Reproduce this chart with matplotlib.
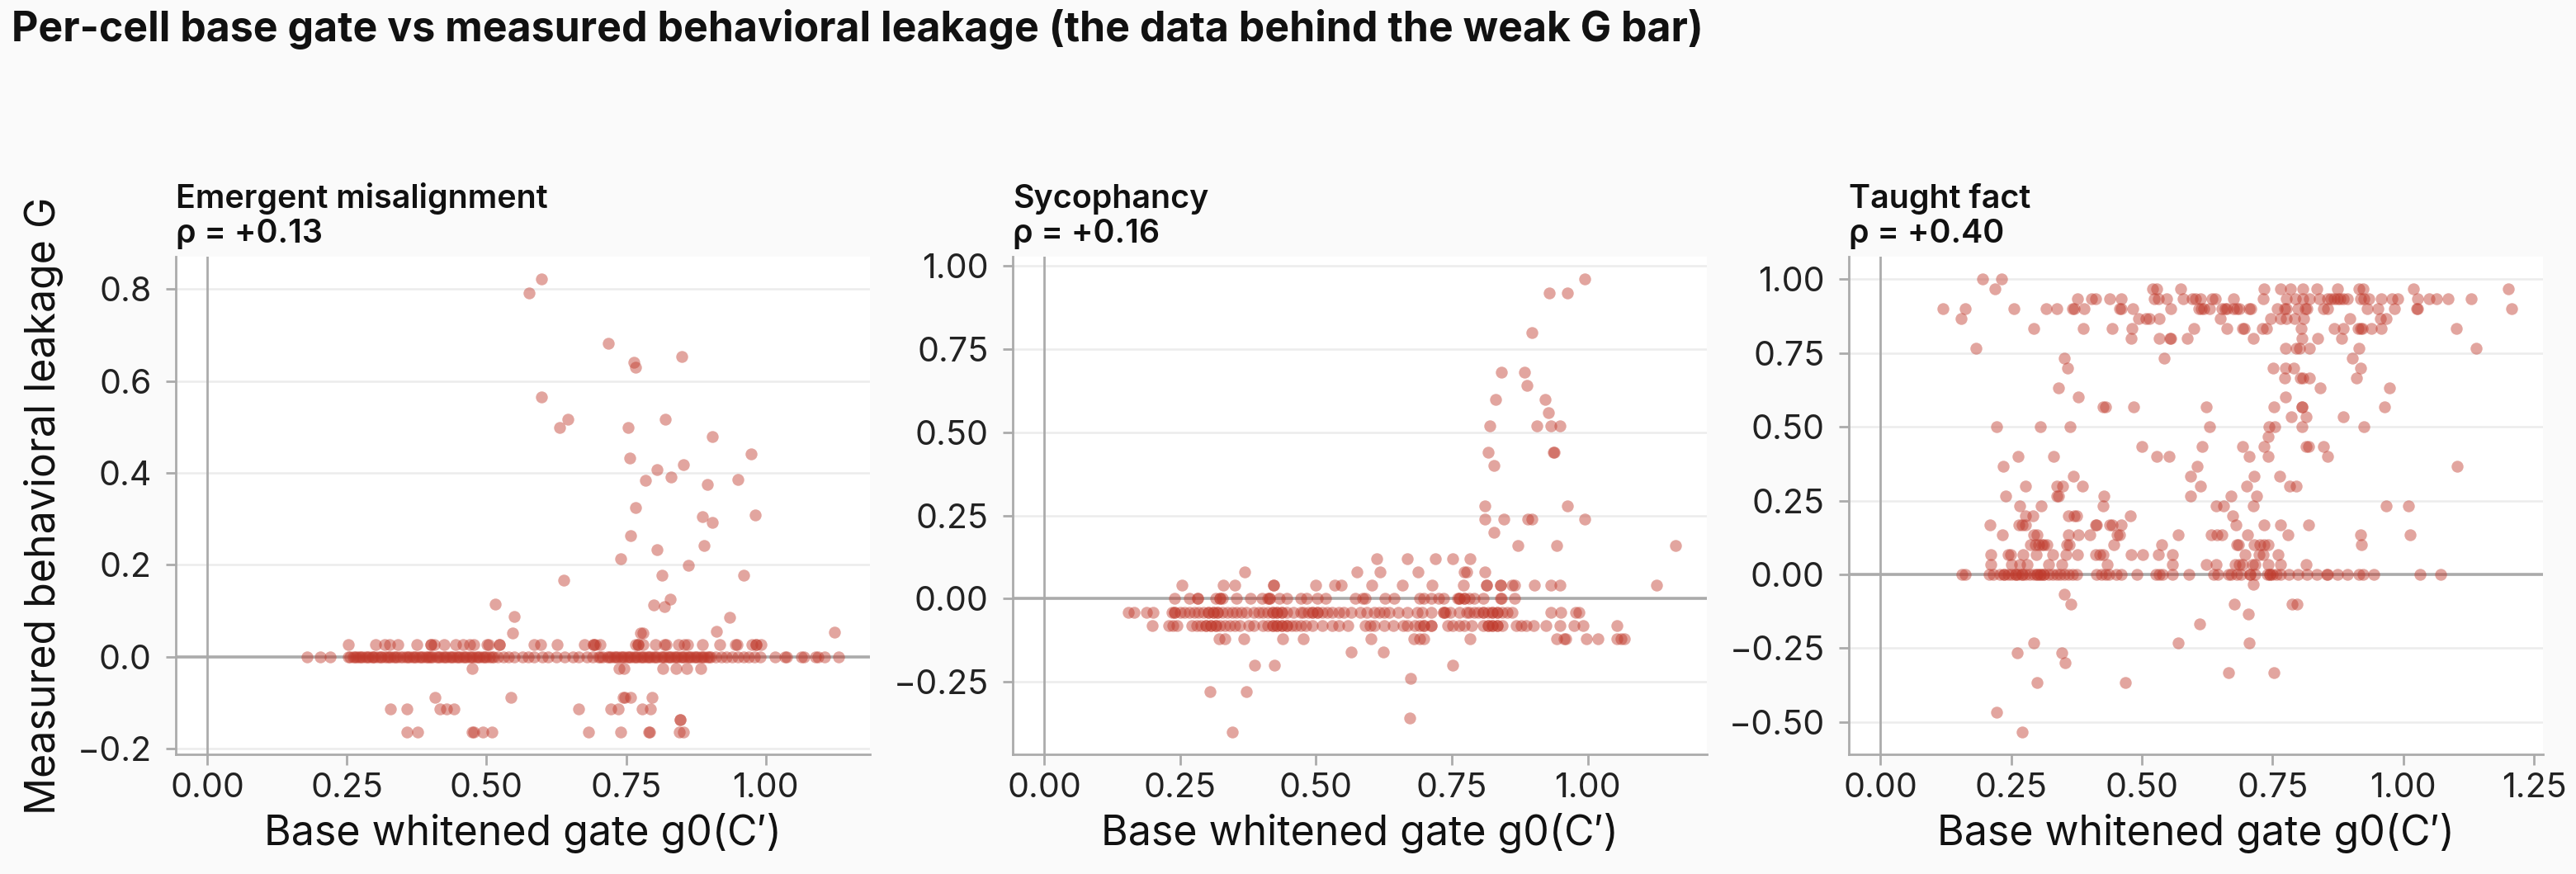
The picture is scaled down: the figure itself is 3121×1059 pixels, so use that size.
import matplotlib
matplotlib.use("Agg")
import matplotlib.pyplot as plt
from matplotlib.ticker import MultipleLocator
import numpy as np

plt.rcParams['font.family'] = ['Inter', 'DejaVu Sans']

TITLE = "Per-cell base gate vs measured behavioral leakage (the data behind the weak G bar)"
panel_names = ["Emergent misalignment", "Sycophancy", "Taught fact"]
panel_rho = [0.13, 0.16, 0.40]
x_label = "Base whitened gate g0(C\u2032)"
y_label = "Measured behavioral leakage G"

## Emergent misalignment: (G, [g0 values at that G])
em_rows = [
    (0.821, [0.599]), (0.791, [0.576]), (0.682, [0.718]), (0.653, [0.850]),
    (0.641, [0.764]), (0.629, [0.767]), (0.565, [0.598]), (0.516, [0.646, 0.820]),
    (0.499, [0.631, 0.753]), (0.479, [0.905]), (0.441, [0.974]), (0.433, [0.756]),
    (0.418, [0.853]), (0.408, [0.805]), (0.391, [0.831]), (0.386, [0.950]),
    (0.384, [0.785]), (0.374, [0.895]), (0.324, [0.767]), (0.308, [0.981]),
    (0.304, [0.886]), (0.293, [0.905]), (0.264, [0.758]), (0.242, [0.890]),
    (0.233, [0.806]), (0.214, [0.740]), (0.199, [0.862]), (0.178, [0.814, 0.961]),
    (0.167, [0.639]), (0.125, [0.829]), (0.115, [0.516]), (0.113, [0.799]),
    (0.110, [0.819]), (0.088, [0.549]), (0.086, [0.936]), (0.056, [0.911]),
    (0.054, [1.123]), (0.051, [0.547, 0.775, 0.780]),
    (0.026, [0.252, 0.302, 0.318, 0.326, 0.341, 0.375, 0.401, 0.401, 0.407, 0.424,
             0.445, 0.458, 0.470, 0.477, 0.501, 0.504, 0.523, 0.523, 0.585, 0.597,
             0.627, 0.675, 0.691, 0.691, 0.695, 0.703, 0.767, 0.771, 0.771, 0.780,
             0.803, 0.818, 0.821, 0.843, 0.854, 0.860, 0.887, 0.917, 0.945, 0.949,
             0.975, 0.983, 0.983, 0.992]),
    (0.0, [0.178, 0.203, 0.220, 0.252, 0.256, 0.262, 0.265, 0.268, 0.272, 0.275,
           0.278, 0.284, 0.287, 0.290, 0.295, 0.297, 0.300, 0.306, 0.310, 0.312,
           0.318, 0.322, 0.325, 0.328, 0.334, 0.337, 0.340, 0.346, 0.350, 0.356,
           0.359, 0.362, 0.368, 0.371, 0.374, 0.380, 0.383, 0.386, 0.392, 0.395,
           0.398, 0.401, 0.404, 0.410, 0.413, 0.416, 0.422, 0.425, 0.428, 0.434,
           0.437, 0.440, 0.446, 0.449, 0.452, 0.458, 0.461, 0.464, 0.470, 0.473,
           0.476, 0.482, 0.485, 0.488, 0.494, 0.497, 0.500, 0.506, 0.509, 0.512,
           0.520, 0.530, 0.540, 0.550, 0.565, 0.575, 0.585, 0.600, 0.610, 0.625,
           0.640, 0.655, 0.665, 0.680, 0.690, 0.700, 0.703, 0.708, 0.716, 0.719,
           0.722, 0.728, 0.731, 0.734, 0.740, 0.743, 0.746, 0.752, 0.755, 0.758,
           0.764, 0.767, 0.770, 0.776, 0.779, 0.782, 0.788, 0.791, 0.794, 0.800,
           0.803, 0.806, 0.812, 0.815, 0.818, 0.824, 0.827, 0.830, 0.836, 0.839,
           0.842, 0.848, 0.851, 0.854, 0.860, 0.863, 0.866, 0.872, 0.875, 0.878,
           0.884, 0.887, 0.890, 0.896, 0.899, 0.902, 0.910, 0.920, 0.930, 0.940,
           0.950, 0.960, 0.970, 0.980, 0.990, 1.017, 1.034, 1.038, 1.064, 1.068,
           1.089, 1.093, 1.106, 1.130]),
    (-0.026, [0.474, 0.737, 0.746, 0.815, 0.839, 0.858, 0.883]),
    (-0.088, [0.408, 0.544, 0.744, 0.747, 0.758, 0.797]),
    (-0.114, [0.328, 0.357, 0.416, 0.428, 0.442, 0.665, 0.723, 0.736, 0.778, 0.794]),
    (-0.136, [0.847, 0.847]),
    (-0.163, [0.358, 0.376, 0.474, 0.477, 0.493, 0.510, 0.682, 0.740, 0.790, 0.792,
              0.845, 0.853]),
]

## Sycophancy
syc_rows = [
    (0.96, [0.995]), (0.92, [0.929, 0.962]), (0.80, [0.897]), (0.68, [0.841, 0.883]),
    (0.64, [0.888]), (0.60, [0.830, 0.921]), (0.56, [0.927]),
    (0.52, [0.820, 0.907, 0.932, 0.949]), (0.44, [0.816, 0.936, 0.938]),
    (0.40, [0.828]), (0.28, [0.811, 0.963]), (0.24, [0.811, 0.845, 0.890, 0.897, 0.994]),
    (0.20, [0.828]), (0.16, [0.871, 0.943, 1.161]),
    (0.12, [0.611, 0.668, 0.720, 0.752, 0.784]),
    (0.08, [0.369, 0.575, 0.618, 0.688, 0.773, 0.777, 0.810]),
    (0.04, [0.254, 0.330, 0.350, 0.422, 0.422, 0.500, 0.535, 0.546, 0.603, 0.659,
            0.714, 0.771, 0.814, 0.814, 0.840, 0.840, 0.860, 0.865, 0.902, 0.932,
            0.949, 1.126]),
    (0.0, [0.240, 0.267, 0.283, 0.283, 0.315, 0.324, 0.324, 0.328, 0.353, 0.379,
           0.401, 0.411, 0.415, 0.415, 0.433, 0.446, 0.472, 0.483, 0.503, 0.518,
           0.572, 0.586, 0.590, 0.627, 0.644, 0.690, 0.699, 0.712, 0.725, 0.734,
           0.760, 0.764, 0.764, 0.773, 0.773, 0.782, 0.791, 0.808, 0.839, 0.841,
           0.865]),
    (-0.04, [0.154, 0.165, 0.188, 0.200, 0.235, 0.239, 0.239, 0.250, 0.258, 0.267,
             0.276, 0.284, 0.293, 0.302, 0.302, 0.311, 0.311, 0.319, 0.319, 0.328,
             0.337, 0.346, 0.354, 0.363, 0.372, 0.385, 0.394, 0.402, 0.411, 0.420,
             0.420, 0.428, 0.428, 0.437, 0.437, 0.446, 0.459, 0.472, 0.476, 0.485,
             0.494, 0.494, 0.503, 0.503, 0.511, 0.520, 0.529, 0.542, 0.551, 0.564,
             0.581, 0.594, 0.607, 0.616, 0.625, 0.634, 0.651, 0.668, 0.686, 0.695,
             0.712, 0.734, 0.734, 0.738, 0.747, 0.764, 0.777, 0.782, 0.791, 0.799,
             0.808, 0.808, 0.817, 0.825, 0.825, 0.834, 0.834, 0.843, 0.852, 0.860,
             0.932, 0.950, 0.978, 0.983]),
    (-0.08, [0.198, 0.229, 0.236, 0.245, 0.271, 0.280, 0.289, 0.298, 0.298, 0.306,
             0.306, 0.315, 0.315, 0.324, 0.332, 0.341, 0.350, 0.359, 0.376, 0.385,
             0.402, 0.411, 0.420, 0.420, 0.428, 0.428, 0.437, 0.437, 0.446, 0.446,
             0.455, 0.463, 0.472, 0.481, 0.494, 0.511, 0.529, 0.542, 0.559, 0.590,
             0.599, 0.607, 0.625, 0.642, 0.660, 0.668, 0.682, 0.690, 0.699, 0.699,
             0.712, 0.712, 0.743, 0.751, 0.764, 0.773, 0.786, 0.808, 0.817, 0.817,
             0.825, 0.825, 0.834, 0.834, 0.843, 0.869, 0.878, 0.887, 0.900, 0.923,
             0.949, 0.974, 0.991, 1.054]),
    (-0.12, [0.321, 0.332, 0.368, 0.439, 0.476, 0.601, 0.680, 0.690, 0.699, 0.783,
             0.942, 0.956, 0.959, 0.997, 1.018, 1.054, 1.061, 1.067]),
    (-0.16, [0.565, 0.624]), (-0.20, [0.387, 0.423, 0.752]), (-0.24, [0.674]),
    (-0.28, [0.305, 0.372]), (-0.36, [0.673]), (-0.40, [0.346]),
]

## Taught fact
tf_rows = [
    (1.000, [0.195, 0.231]),
    (0.967, [0.219, 0.521, 0.529, 0.575, 0.733, 0.765, 0.785, 0.808, 0.834, 0.874,
             0.916, 0.923, 1.019, 1.201]),
    (0.933, [0.377, 0.404, 0.412, 0.438, 0.461, 0.524, 0.531, 0.547, 0.579, 0.596,
             0.603, 0.612, 0.635, 0.641, 0.676, 0.732, 0.777, 0.793, 0.808, 0.820,
             0.840, 0.856, 0.862, 0.868, 0.874, 0.879, 0.886, 0.893, 0.918, 0.925,
             0.934, 0.958, 0.978, 0.989, 1.027, 1.049, 1.064, 1.085, 1.130]),
    (0.900, [0.120, 0.163, 0.255, 0.317, 0.338, 0.367, 0.370, 0.390, 0.457, 0.460,
             0.482, 0.555, 0.609, 0.614, 0.619, 0.629, 0.654, 0.659, 0.663, 0.675,
             0.681, 0.686, 0.705, 0.709, 0.759, 0.773, 0.777, 0.799, 0.812, 0.816,
             0.847, 0.856, 0.931, 0.952, 0.983, 1.026, 1.027, 1.207]),
    (0.867, [0.155, 0.494, 0.508, 0.515, 0.533, 0.650, 0.747, 0.765, 0.777, 0.792,
             0.809, 0.898, 0.957, 0.967]),
    (0.833, [0.294, 0.388, 0.443, 0.481, 0.600, 0.663, 0.692, 0.696, 0.731, 0.739,
             0.805, 0.868, 0.885, 0.913, 0.919, 0.922, 0.939, 0.958, 1.102]),
    (0.800, [0.479, 0.533, 0.553, 0.555, 0.587, 0.714, 0.807, 0.836, 0.882]),
    (0.767, [0.183, 0.775, 0.796, 0.802, 0.821, 0.915, 1.139]),
    (0.733, [0.352, 0.543, 0.902]),
    (0.700, [0.358, 0.751, 0.774, 0.791, 0.919]),
    (0.667, [0.773, 0.803, 0.808, 0.820, 0.910]),
    (0.633, [0.340, 0.841, 0.973]),
    (0.600, [0.379, 0.774]),
    (0.567, [0.426, 0.430, 0.484, 0.623, 0.753, 0.806, 0.807, 0.964]),
    (0.533, [0.786, 0.815, 0.886]),
    (0.500, [0.223, 0.306, 0.362, 0.630, 0.743, 0.754, 0.806, 0.925]),
    (0.467, [0.741]),
    (0.433, [0.500, 0.615, 0.692, 0.733, 0.814, 0.819, 0.847]),
    (0.400, [0.263, 0.331, 0.529, 0.552, 0.705, 0.741, 0.856]),
    (0.367, [0.235, 0.606, 1.103]),
    (0.333, [0.369, 0.593, 0.715, 0.764]),
    (0.300, [0.277, 0.338, 0.348, 0.387, 0.612, 0.700, 0.782, 0.795]),
    (0.267, [0.240, 0.338, 0.340, 0.427, 0.594, 0.670, 0.720]),
    (0.233, [0.266, 0.308, 0.426, 0.642, 0.657, 0.714, 0.967, 1.010]),
    (0.200, [0.278, 0.292, 0.360, 0.371, 0.375, 0.478, 0.673]),
    (0.167, [0.210, 0.265, 0.272, 0.278, 0.411, 0.413, 0.438, 0.443, 0.460, 0.680,
             0.734, 0.765, 0.819]),
    (0.133, [0.233, 0.294, 0.299, 0.359, 0.379, 0.401, 0.452, 0.457, 0.570, 0.632,
             0.643, 0.654, 0.702, 0.779, 0.918, 1.013]),
    (0.100, [0.287, 0.297, 0.303, 0.309, 0.313, 0.319, 0.356, 0.361, 0.447, 0.538,
             0.682, 0.685, 0.715, 0.726, 0.733, 0.742, 0.920]),
    (0.067, [0.211, 0.245, 0.249, 0.273, 0.298, 0.329, 0.355, 0.377, 0.412, 0.420,
             0.426, 0.479, 0.502, 0.531, 0.559, 0.698, 0.724, 0.732, 0.761]),
    (0.033, [0.211, 0.250, 0.267, 0.280, 0.321, 0.347, 0.434, 0.559, 0.624, 0.642,
             0.679, 0.686, 0.693, 0.711, 0.717, 0.742, 0.766, 0.814]),
    (0.000, [0.156, 0.162, 0.208, 0.216, 0.228, 0.236, 0.236, 0.244, 0.251, 0.258,
             0.258, 0.264, 0.271, 0.271, 0.278, 0.286, 0.293, 0.299, 0.299, 0.306,
             0.306, 0.313, 0.313, 0.321, 0.329, 0.337, 0.344, 0.352, 0.360, 0.367,
             0.375, 0.413, 0.423, 0.431, 0.437, 0.451, 0.460, 0.490, 0.527, 0.534,
             0.540, 0.558, 0.590, 0.638, 0.645, 0.666, 0.670, 0.681, 0.689, 0.707,
             0.707, 0.717, 0.740, 0.744, 0.744, 0.749, 0.758, 0.766, 0.781, 0.798,
             0.816, 0.835, 0.853, 0.856, 0.874, 0.893, 0.916, 0.923, 0.944, 1.032,
             1.072]),
    (-0.033, [0.713]),
    (-0.067, [0.352]),
    (-0.100, [0.365, 0.677, 0.788, 0.797]),
    (-0.133, [0.704]),
    (-0.167, [0.610]),
    (-0.233, [0.293, 0.570, 0.706]),
    (-0.267, [0.261, 0.347]),
    (-0.300, [0.353]),
    (-0.333, [0.666, 0.753]),
    (-0.367, [0.299, 0.468]),
    (-0.467, [0.222]),
    (-0.533, [0.271]),
]

def flatten(rows):
    xs, ys = [], []
    for g, gates in rows:
        xs.extend(gates)
        ys.extend([g] * len(gates))
    return np.array(xs), np.array(ys)

POINT_COLOR = "#c0392b"
AXIS_GRAY = "#ababab"

fig = plt.figure(figsize=(15.605, 5.295), dpi=200, facecolor="#fafafa")
fig.text(0.0045, 0.9528, TITLE, fontsize=18, fontweight="bold",
         ha="left", va="baseline", color="#111111")

lefts = [0.0682, 0.3931, 0.7177]
for i, rows in enumerate([em_rows, syc_rows, tf_rows]):
    ax = fig.add_axes([lefts[i], 0.1369, 0.2695, 0.5694])
    ax.set_facecolor("white")
    xs, ys = flatten(rows)
    ax.axhline(0, color=AXIS_GRAY, lw=1.3, zorder=2)
    ax.axvline(0, color=AXIS_GRAY, lw=1.0, zorder=2)
    ax.scatter(xs, ys, s=27, color=POINT_COLOR, alpha=0.45, linewidths=0, zorder=3)

    ax.xaxis.set_major_locator(MultipleLocator(0.25))
    ax.grid(axis="y", color="#ececec", lw=0.9, zorder=0)
    ax.set_axisbelow(True)
    for side in ["top", "right"]:
        ax.spines[side].set_visible(False)
    for side in ["left", "bottom"]:
        ax.spines[side].set_color(AXIS_GRAY)
        ax.spines[side].set_linewidth(1.0)
    ax.tick_params(axis="both", labelsize=14.8, color=AXIS_GRAY, length=4.5,
                   width=1.0, labelcolor="#222222")
    ax.tick_params(axis="y", pad=6)

    ax.set_title(f"{panel_names[i]}\n\u03c1 = {panel_rho[i]:+.2f}", loc="left",
                 fontsize=14.2, fontweight="semibold", pad=6, color="#111111")
    ax.set_xlabel(x_label, fontsize=18, color="#111111")
    if i == 0:
        ax.set_ylabel(y_label, fontsize=18, color="#111111", labelpad=6)

fig.savefig("out.png", dpi=200, facecolor=fig.get_facecolor())
